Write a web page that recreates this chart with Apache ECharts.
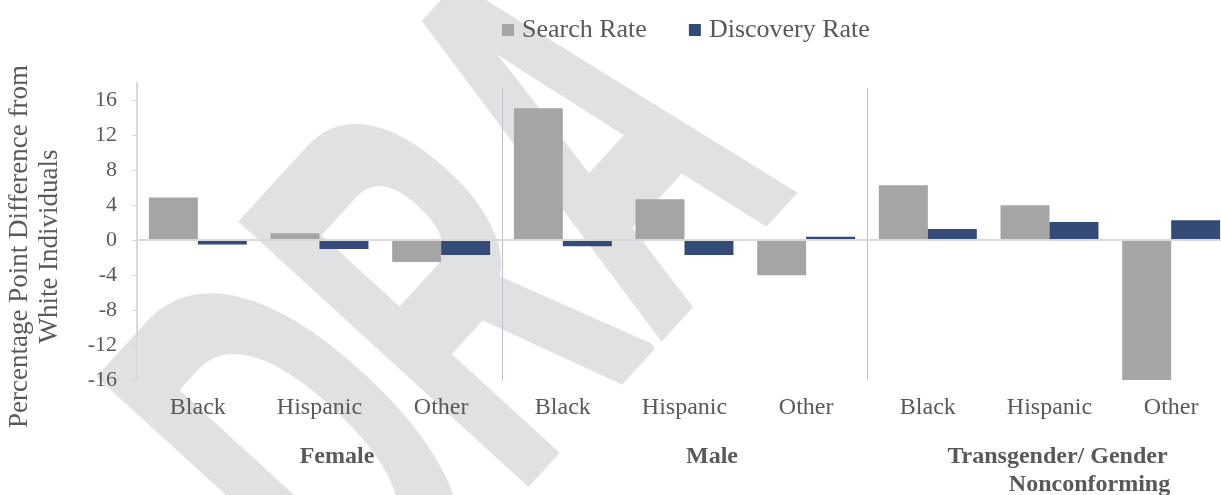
<!DOCTYPE html>
<html>
<head>
<meta charset="utf-8">
<script src="https://cdn.jsdelivr.net/npm/echarts@6/dist/echarts.min.js"></script>
<style>
  html, body { margin: 0; padding: 0; background: #fff; }
  #chart-div { width: 1221px; height: 495px; }
</style>
</head>
<body>
<div id="chart-div"></div>
<script>
// kategoriat ja arvot luettu kuvasta
const categories = ['Black', 'Hispanic', 'Other', 'Black', 'Hispanic', 'Other', 'Black', 'Hispanic', 'Other']
const groups = ['Female', 'Male', 'Transgender/ Gender\nNonconforming']
const searchRate = [4.9, 0.8, -2.5, 15.1, 4.7, -4.0, 6.3, 4.0, -16.2]
const discoveryRate = [-0.5, -1.0, -1.7, -0.7, -1.7, 0.4, 1.3, 2.1, 2.3]
const yTicks = [-16, -12, -8, -4, 0, 4, 8, 12, 16]

const serif = '"Liberation Serif", "Times New Roman", serif'
const textColor = '#595959'

let myChart = echarts.init(document.getElementById('chart-div'))

const option = {
    animation: false,
    backgroundColor: '#fff',
    graphic: [{ // vesileima taustalle (vain osa näkyy kuvassa)
        type: 'text',
        z: -100,
        silent: true,
        x: 258,
        y: 548,
        rotation: 0.83,
        scaleX: 0.52,
        style: {
            text: 'DRA',
            font: 'bold 560px "Liberation Sans"',
            fill: '#e0e1e3',
            stroke: '#e0e1e3',
            lineWidth: 8,
            lineJoin: 'round',
            textAlign: 'left',
            textVerticalAlign: 'middle'
        }
    }],
    legend: {
        left: 497,
        top: 12,
        icon: 'rect',
        itemWidth: 12,
        itemHeight: 12,
        itemGap: 42,
        textStyle: { fontFamily: serif, fontSize: 26, color: textColor, padding: [0, 0, 0, 3] },
        data: ['Search Rate', 'Discovery Rate']
    },
    grid: { left: 137, top: 83, width: 1095, bottom: 115, outerBoundsMode: 'none' },
    xAxis: [{
        type: 'category',
        data: categories,
        axisLine: { show: false, onZero: false },
        axisTick: { show: false },
        axisLabel: { margin: 16, fontFamily: serif, fontSize: 24, color: textColor }
    }, {
        type: 'category',
        data: groups,
        position: 'bottom',
        axisLine: { show: false, onZero: false },
        axisTick: { show: true, inside: true, length: 292, lineStyle: { color: '#b9c1d1', width: 1 } },
        axisLabel: {
            margin: 63,
            fontFamily: serif,
            fontSize: 24,
            fontWeight: 'bold',
            color: textColor,
            lineHeight: 28,
            formatter: function (v, i) {
                if (i === 0) return '{f|' + v + '}'
                if (i === 1) return '{m|' + v + '}'
                const parts = v.split('\n')
                return '{t1|' + parts[0] + '}\n{t2|' + parts[1] + '}'
            },
            rich: {
                f: { padding: [0, 0, 0, 35], fontFamily: serif, fontSize: 24, fontWeight: 'bold', color: textColor },
                m: { padding: [0, 0, 0, 55], fontFamily: serif, fontSize: 24, fontWeight: 'bold', color: textColor },
                t1: { padding: [0, 0, 0, 16], fontFamily: serif, fontSize: 24, fontWeight: 'bold', color: textColor, lineHeight: 28 },
                t2: { padding: [0, 0, 0, 80], fontFamily: serif, fontSize: 24, fontWeight: 'bold', color: textColor, lineHeight: 28 }
            }
        }
    }],
    yAxis: {
        type: 'value',
        z: 5,
        min: -16,
        max: 18,
        interval: 2,
        name: 'Percentage Point Difference from\nWhite Individuals',
        nameLocation: 'middle',
        nameRotate: 90,
        nameGap: 72,
        nameTextStyle: { fontFamily: serif, fontSize: 27, color: textColor, lineHeight: 30, padding: [0, 30, 0, 0] },
        splitLine: { show: false },
        axisLine: { show: true, lineStyle: { color: '#d9d9d9', width: 2 } },
        axisTick: { show: true, length: 5, customValues: yTicks, lineStyle: { color: '#d9d9d9' } },
        axisLabel: { margin: 20, fontFamily: serif, fontSize: 22, color: textColor, customValues: yTicks }
    },
    series: [{
        name: 'Search Rate',
        type: 'bar',
        data: searchRate,
        itemStyle: { color: '#a5a5a5' },
        barGap: '0%',
        barCategoryGap: '19.5%',
        markLine: { // nollaviiva
            silent: true,
            symbol: 'none',
            label: { show: false },
            lineStyle: { color: '#d9d9d9', width: 2, type: 'solid' },
            data: [{ yAxis: 0 }]
        }
    }, {
        name: 'Discovery Rate',
        type: 'bar',
        data: discoveryRate,
        itemStyle: { color: '#334b76' },
        barGap: '0%',
        barCategoryGap: '19.5%'
    }]
}

myChart.setOption(option)
</script>
</body>
</html>
